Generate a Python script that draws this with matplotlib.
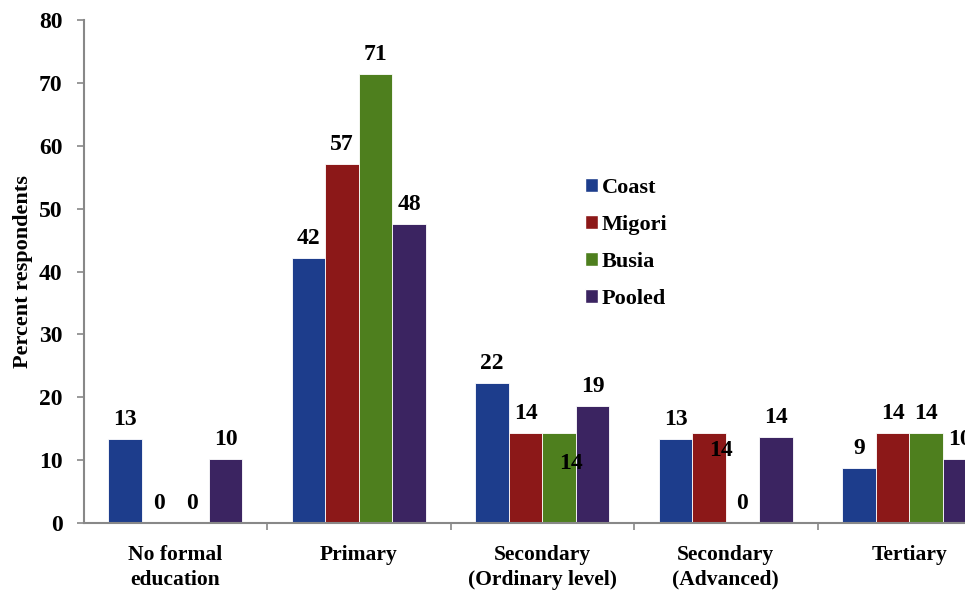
import numpy as np
import matplotlib
matplotlib.use("Agg")
import matplotlib.pyplot as plt
from matplotlib.patches import Patch

plt.rcParams['font.family'] = ['Liberation Serif', 'DejaVu Serif']
plt.rcParams['font.weight'] = 'bold'

# Data
categories = ['No formal\neducation', 'Primary', 'Secondary\n(Ordinary level)',
              'Secondary\n(Advanced)', 'Tertiary']
series = ['Coast', 'Migori', 'Busia', 'Pooled']
coast = [13.3, 42.1, 22.2, 13.3, 8.8]
migori = [0, 57.1, 14.3, 14.3, 14.3]
busia = [0, 71.4, 14.3, 0, 14.3]
pooled = [10.1, 47.6, 18.6, 13.6, 10.1]
colors = ['#1d3d8c', '#8c1818', '#4e7f1e', '#3b2461']

values = [coast, migori, busia, pooled]

fig = plt.figure(figsize=(9.65, 5.94), dpi=100)
ax = fig.add_axes([83.5 / 965, 1 - 523 / 594, 917.5 / 965, 503 / 594])

x = np.arange(len(categories))
w = 0.1825

# labels that Excel placed oddly: (series, category) -> (x shift px, y value)
moved = {(2, 2): (12, 9.5), (1, 3): (12, 11.6)}

for i, (vals, col) in enumerate(zip(values, colors)):
    pos = x + (i - 1.5) * w
    ax.bar(pos, vals, w, color=col, edgecolor='white', linewidth=0.6)
    for j, (px, v) in enumerate(zip(pos, vals)):
        if (i, j) in moved:
            dx, yv = moved[(i, j)]
            ax.annotate(f'{round(v)}', (px, yv), xytext=(dx, 0),
                        textcoords='offset pixels', ha='center', va='center',
                        fontsize=17, fontweight='bold')
        else:
            ax.annotate(f'{round(v)}', (px, v), xytext=(0, 9),
                        textcoords='offset pixels', ha='center', va='bottom',
                        fontsize=17, fontweight='bold')

ax.set_xlim(-0.5, 4.5)
ax.set_ylim(0, 80)
ax.set_yticks(np.arange(0, 81, 10))
ax.set_xticks(x)
ax.set_xticklabels(categories, fontsize=15.5, fontweight='bold', linespacing=1.3)
ax.set_xticks(np.arange(0.5, 4.6, 1), minor=True)
ax.tick_params(axis='x', which='major', length=0, pad=16)
ax.tick_params(axis='x', which='minor', length=5, width=1.2, color='#888888', direction='out')
ax.tick_params(axis='y', length=5, width=1.2, color='#888888', pad=10, labelsize=17)
for lab in ax.get_yticklabels():
    lab.set_fontweight('bold')

for s in ['top', 'right']:
    ax.spines[s].set_visible(False)
for s in ['left', 'bottom']:
    ax.spines[s].set_color('#888888')
    ax.spines[s].set_linewidth(1.5)

ax.set_ylabel('Percent respondents', fontsize=16, fontweight='bold', labelpad=4)

handles = [Patch(facecolor=c, edgecolor='white', label=s) for s, c in zip(series, colors)]
fig.legend(handles=handles, loc='upper left', bbox_to_anchor=(574 / 965, 1 - 167 / 594),
           frameon=False, handlelength=0.6, handleheight=0.6,
           handletextpad=0.15, labelspacing=0.76, borderpad=0,
           prop={'weight': 'bold', 'size': 16})

fig.savefig('out.png', dpi=100, facecolor='white')
